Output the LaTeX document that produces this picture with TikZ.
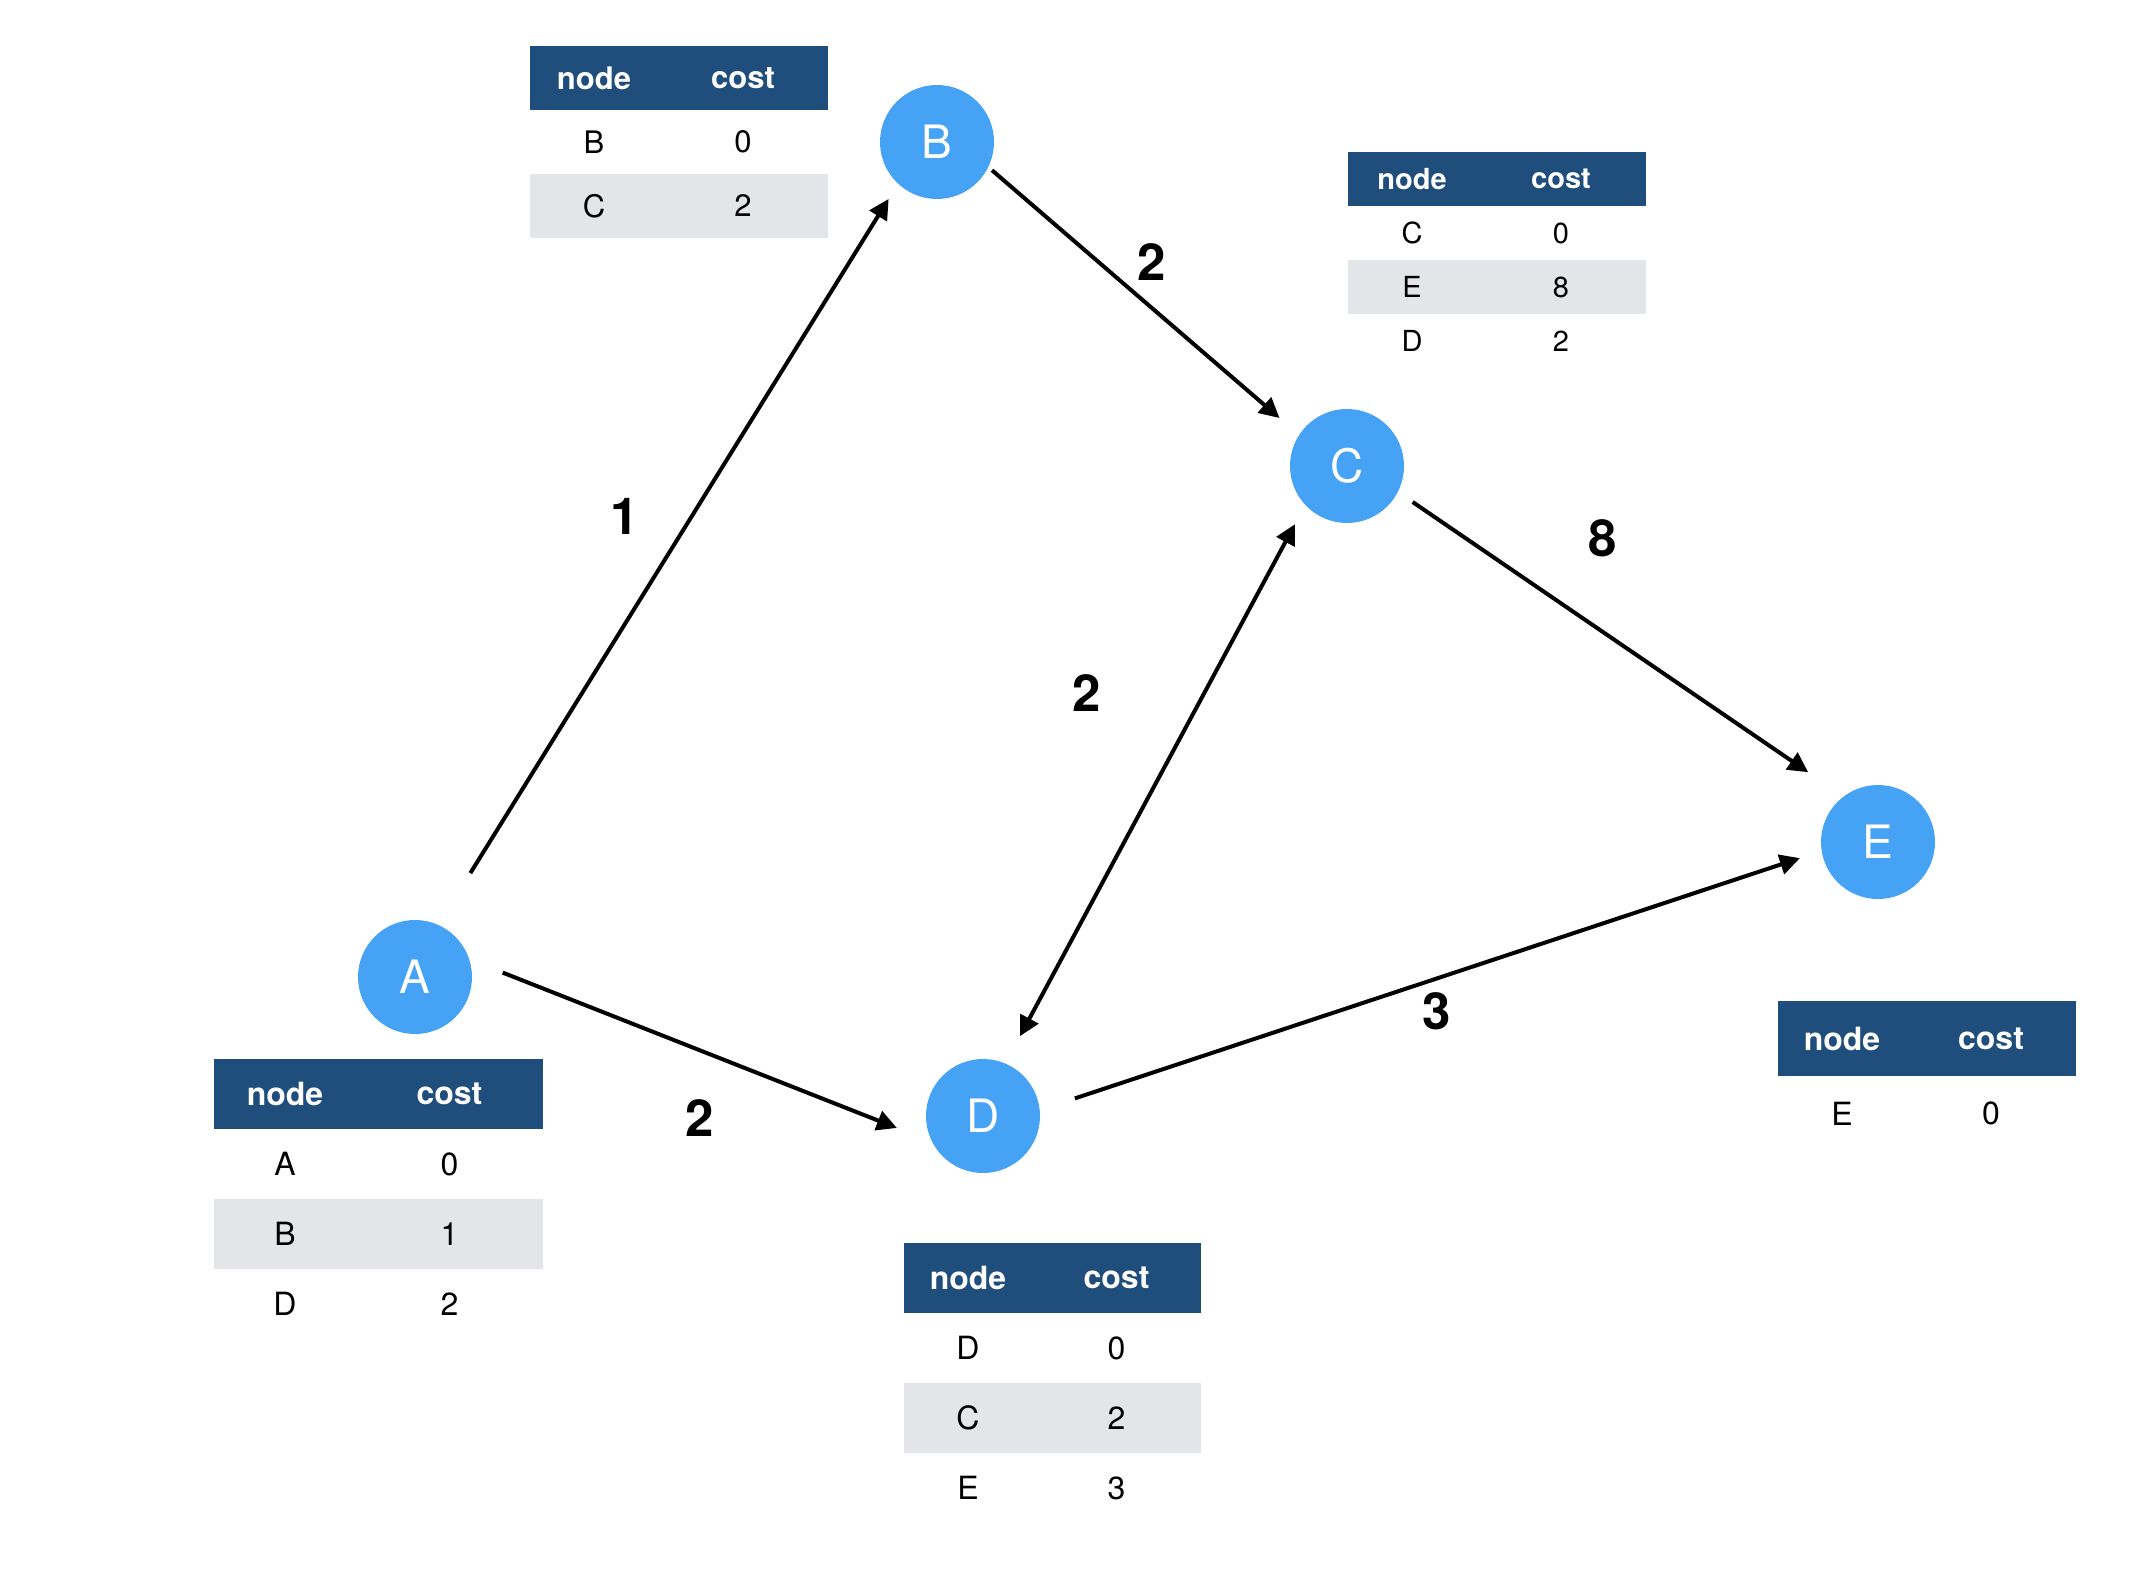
\documentclass[tikz,border=0pt]{standalone}
\usepackage{fontspec}
\setmainfont{TeX Gyre Heros}
\usepackage{tikz}
\usetikzlibrary{arrows.meta, positioning}

\definecolor{nodeblue}{RGB}{69,162,245}
\definecolor{headblue}{RGB}{31,78,124}
\definecolor{rowgray}{RGB}{228,229,233}

% cost table: name, north west corner, left width, right width, row height, font size, rows
\newcommand{\costtable}[7]{%
  \node[headcell, minimum width=#3, minimum height=#5, anchor=north west, font=\bfseries\fontsize{#6}{#6}\selectfont] (#1-0-l) at #2 {node};
  \node[headcell, minimum width=#4, minimum height=#5, right=0pt of #1-0-l, font=\bfseries\fontsize{#6}{#6}\selectfont] (#1-0-r) {cost};
  \foreach \nd/\cst [count=\r, remember=\r as \q (initially 0)] in {#7} {
    \ifodd\r \def\rowfill{white}\else \def\rowfill{rowgray}\fi
    \node[cell, fill=\rowfill, minimum width=#3, minimum height=#5, below=0pt of #1-\q-l, font=\fontsize{#6}{#6}\selectfont] (#1-\r-l) {\nd};
    \node[cell, fill=\rowfill, minimum width=#4, minimum height=#5, right=0pt of #1-\r-l, font=\fontsize{#6}{#6}\selectfont] (#1-\r-r) {\cst};
  }%
}

\begin{document}
\begin{tikzpicture}[
    x=1pt, y=-1pt,
    vertex/.style={circle, fill=nodeblue, minimum size=114pt, inner sep=0pt, outer sep=0pt, text=white, font=\fontsize{46}{46}\selectfont},
    headcell/.style={rectangle, fill=headblue, text=white, inner sep=0pt, outer sep=0pt},
    cell/.style={rectangle, text=black, inner sep=0pt, outer sep=0pt},
    weight/.style={font=\bfseries\fontsize{51}{51}\selectfont},
    edge/.style={->, line width=4pt},
    >={Triangle[length=20pt, width=20pt]},
]
  \useasboundingbox (0,0) rectangle (2148,1590);

  % graph nodes
  \node[vertex] (A) at (415,977)  {A};
  \node[vertex] (B) at (937,142)  {B};
  \node[vertex] (C) at (1347,466) {C};
  \node[vertex] (D) at (983,1116) {D};
  \node[vertex] (E) at (1878,842) {E};

  % edges
  \draw[edge, shorten <=61pt, shorten >=18pt] (A.66) -- (B.227);
  \draw[edge, shorten <=5pt,  shorten >=26pt] (B.334) -- (C.147);
  \draw[edge, shorten <=18pt, shorten >=43pt] (C.333) -- (E.127);
  \draw[edge, <->, shorten <=31pt, shorten >=22pt] (D.67) -- (C.223);
  \draw[edge, shorten <=36pt, shorten >=38pt] (A.18) -- (D.207);
  \draw[edge, shorten <=37pt, shorten >=23pt] (D.6) -- (E.189);

  % edge weights
  \node[weight] (wAB) at (625,516)   {1};
  \node[weight] (wBC) at (1152,262)  {2};
  \node[weight] (wCE) at (1603,538)  {8};
  \node[weight] (wCD) at (1087,693)  {2};
  \node[weight] (wAD) at (700,1118)  {2};
  \node[weight] (wDE) at (1437,1011) {3};

  % cost tables
  \costtable{tA}{(214,1059)}{142pt}{187pt}{70pt}{32}{A/0, B/1, D/2}
  \costtable{tB}{(530,46)}{128pt}{170pt}{64pt}{31}{B/0, C/2}
  \costtable{tC}{(1348,152)}{128pt}{170pt}{54pt}{29}{C/0, E/8, D/2}
  \costtable{tD}{(904,1243)}{128pt}{169pt}{70pt}{32}{D/0, C/2, E/3}
  \costtable{tE}{(1778,1001)}{128pt}{170pt}{75pt}{32}{E/0}
\end{tikzpicture}
\end{document}
